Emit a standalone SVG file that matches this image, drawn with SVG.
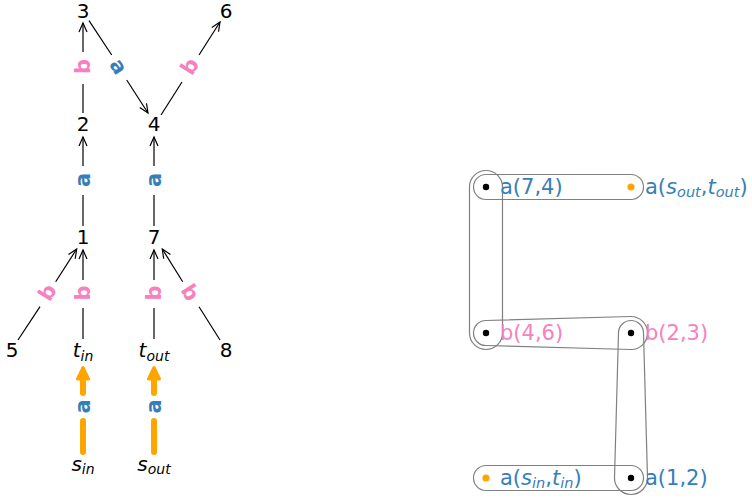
<svg xmlns="http://www.w3.org/2000/svg" width="752" height="498" viewBox="0 0 752 498">
<style>
.node{font-family:"DejaVu Sans",sans-serif;font-size:20px;fill:#000;text-anchor:middle}
.el{font-family:"DejaVu Sans",sans-serif;font-size:21px;font-weight:bold;text-anchor:middle}
.ea{fill:#377eb8}
.eb{fill:#f781bf}
.edge{stroke:#000;stroke-width:1.2;fill:none}
.oedge{stroke:#ffa500;stroke-width:6;stroke-linecap:round;fill:none}
.ohead{fill:#ffa500;stroke:#ffa500;stroke-width:3;stroke-linejoin:round}
.it{font-style:italic}
.hl{font-family:"DejaVu Sans",sans-serif;font-size:21px}
.hlb{fill:#377eb8}
.hlp{fill:#f781bf}
.hedge{fill:none;stroke:#808080;stroke-width:1.2}
</style>
<defs>
<marker id="arr" viewBox="-11 -6 13 12" refX="0" refY="0" markerWidth="13" markerHeight="12" markerUnits="userSpaceOnUse" orient="auto">
<path d="M-9,-4 L0,0 L-9,4" fill="none" stroke="#000" stroke-width="1.2"/>
</marker>
</defs>

<g id="connectors">
<!-- 2 -> 3 -->
<line class="edge" x1="83" y1="113" x2="83" y2="84"/>
<line class="edge" x1="83" y1="52" x2="83" y2="23" marker-end="url(#arr)"/>
<!-- 1 -> 2 -->
<line class="edge" x1="83" y1="226" x2="83" y2="195"/>
<line class="edge" x1="83" y1="166" x2="83" y2="137" marker-end="url(#arr)"/>
<!-- 7 -> 4 -->
<line class="edge" x1="154" y1="226" x2="154" y2="195"/>
<line class="edge" x1="154" y1="166" x2="154" y2="137" marker-end="url(#arr)"/>
<!-- 3 -> 4 -->
<line class="edge" x1="89" y1="20.7" x2="111.7" y2="55"/>
<line class="edge" x1="126.7" y1="80" x2="148" y2="113" marker-end="url(#arr)"/>
<!-- 4 -> 6 -->
<line class="edge" x1="161" y1="115" x2="182" y2="82"/>
<line class="edge" x1="199" y1="55" x2="220" y2="22" marker-end="url(#arr)"/>
<!-- 5 -> 1 -->
<line class="edge" x1="18" y1="340" x2="40" y2="306.7"/>
<line class="edge" x1="55.7" y1="281.7" x2="76.7" y2="249" marker-end="url(#arr)"/>
<!-- t_in -> 1 -->
<line class="edge" x1="83" y1="339" x2="83" y2="308"/>
<line class="edge" x1="83" y1="280" x2="83" y2="250" marker-end="url(#arr)"/>
<!-- t_out -> 7 -->
<line class="edge" x1="154" y1="339" x2="154" y2="308"/>
<line class="edge" x1="154" y1="280" x2="154" y2="250" marker-end="url(#arr)"/>
<!-- 8 -> 7 -->
<line class="edge" x1="220" y1="340" x2="199" y2="306.7"/>
<line class="edge" x1="182.7" y1="281.7" x2="162.3" y2="249" marker-end="url(#arr)"/>
<!-- s_in -> t_in (orange) -->
<line class="oedge" x1="83" y1="452" x2="83" y2="421"/>
<line class="oedge" x1="83" y1="393" x2="83" y2="379"/>
<polygon class="ohead" points="83,367.5 77.5,379 88.5,379"/>
<!-- s_out -> t_out (orange) -->
<line class="oedge" x1="154" y1="452" x2="154" y2="421"/>
<line class="oedge" x1="154" y1="393" x2="154" y2="379"/>
<polygon class="ohead" points="154,367.5 148.5,379 159.5,379"/>

<!-- edge labels -->
<text class="el eb" transform="translate(83,66.5) rotate(-90)" y="7">b</text>
<text class="el ea" transform="translate(118.5,66.5) rotate(57.9)" y="7">a</text>
<text class="el eb" transform="translate(190,66.5) rotate(-57.5)" y="7">b</text>
<text class="el ea" transform="translate(83,180) rotate(-90)" y="7">a</text>
<text class="el ea" transform="translate(154,180) rotate(-90)" y="7">a</text>
<text class="el eb" transform="translate(47.5,292.5) rotate(-57.9)" y="7">b</text>
<text class="el eb" transform="translate(83,293) rotate(-90)" y="7">b</text>
<text class="el eb" transform="translate(154,293) rotate(-90)" y="7">b</text>
<text class="el eb" transform="translate(190,292.5) rotate(57.5)" y="7">b</text>
<text class="el ea" transform="translate(83,406.5) rotate(-90)" y="7">a</text>
<text class="el ea" transform="translate(154,406.5) rotate(-90)" y="7">a</text>
</g>

<g id="node-3"><text class="node" x="83" y="17.5">3</text></g>
<g id="node-6"><text class="node" x="226" y="17.5">6</text></g>
<g id="node-2"><text class="node" x="83" y="130.5">2</text></g>
<g id="node-4"><text class="node" x="154" y="130.5">4</text></g>
<g id="node-1"><text class="node" x="83" y="243.5">1</text></g>
<g id="node-7"><text class="node" x="154" y="243.5">7</text></g>
<g id="node-5"><text class="node" x="12" y="356.5">5</text></g>
<g id="node-8"><text class="node" x="226" y="356.5">8</text></g>
<g id="node-t_in"><text class="node" x="83" y="357"><tspan class="it">t</tspan><tspan class="it" font-size="14" dy="3.5">in</tspan></text></g>
<g id="node-t_out"><text class="node" x="154" y="357"><tspan class="it">t</tspan><tspan class="it" font-size="14" dy="3.5">out</tspan></text></g>
<g id="node-s_in"><text class="node" x="83" y="470.5"><tspan class="it">s</tspan><tspan class="it" font-size="14" dy="3.5">in</tspan></text></g>
<g id="node-s_out"><text class="node" x="154" y="470.5"><tspan class="it">s</tspan><tspan class="it" font-size="14" dy="3.5">out</tspan></text></g>

<!-- hypergraph -->
<g id="hyperedges">
<rect class="hedge" x="473.5" y="174.5" width="170" height="25" rx="12.5" ry="12.5"/>
<rect class="hedge" x="469.5" y="170.5" width="33" height="179" rx="16.5" ry="16.5"/>
<path class="hedge" d="M485.655,320.505 L630.545,316.506 A16.5,16.5 0 1 1 630.545,349.494 L485.655,345.495 A12.5,12.5 0 0 1 485.655,320.505 Z"/>
<path class="hedge" d="M643.495,332.655 L647.494,477.545 A16.5,16.5 0 1 1 614.506,477.545 L618.505,332.655 A12.5,12.5 0 0 1 643.495,332.655 Z"/>
<rect class="hedge" x="473.5" y="465.5" width="170" height="25" rx="12.5" ry="12.5"/>
</g>

<g id="hnode-a74"><circle cx="486" cy="187" r="3.2" fill="#000"/><text class="hl hlb" x="500" y="193.5">a(7,4)</text></g>
<g id="hnode-asout"><circle cx="631" cy="187" r="3.6" fill="#ffa500"/><text class="hl hlb" x="645" y="193.5">a(<tspan class="it">s</tspan><tspan class="it" font-size="14.5" dy="3.5">out</tspan><tspan dy="-3.5">,</tspan><tspan class="it">t</tspan><tspan class="it" font-size="14.5" dy="3.5">out</tspan><tspan dy="-3.5">)</tspan></text></g>
<g id="hnode-b46"><circle cx="486" cy="333" r="3.2" fill="#000"/><text class="hl hlp" x="500" y="339.5">b(4,6)</text></g>
<g id="hnode-b23"><circle cx="631" cy="333" r="3.2" fill="#000"/><text class="hl hlp" x="645" y="339.5">b(2,3)</text></g>
<g id="hnode-asin"><circle cx="486" cy="478" r="3.6" fill="#ffa500"/><text class="hl hlb" x="500" y="484.5">a(<tspan class="it">s</tspan><tspan class="it" font-size="14.5" dy="3.5">in</tspan><tspan dy="-3.5">,</tspan><tspan class="it">t</tspan><tspan class="it" font-size="14.5" dy="3.5">in</tspan><tspan dy="-3.5">)</tspan></text></g>
<g id="hnode-a12"><circle cx="631" cy="478" r="3.2" fill="#000"/><text class="hl hlb" x="645" y="484.5">a(1,2)</text></g>
</svg>
